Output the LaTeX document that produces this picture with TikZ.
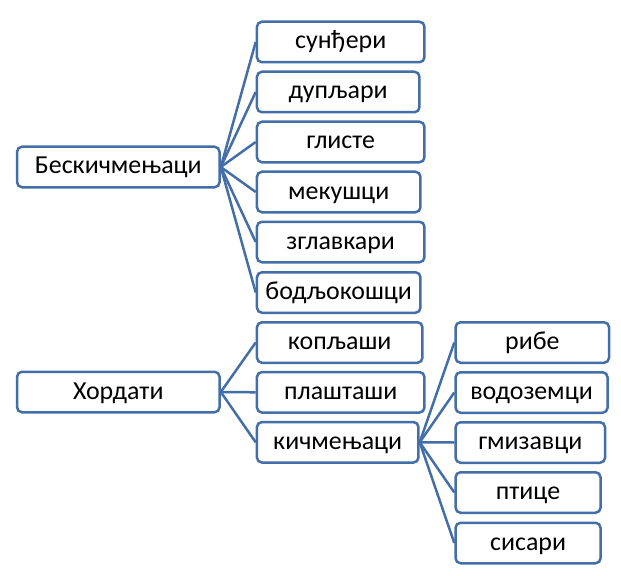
\documentclass[tikz,border=0pt]{standalone}
\usepackage{fontspec}
\setmainfont{Carlito}
\usepackage{xcolor}
\usepackage{tikz}

\definecolor{boxblue}{RGB}{68,110,168}

\tikzset{
  taxon/.style={draw=boxblue, fill=white, line width=2.5bp, rounded corners=5bp,
    minimum height=40.5bp, inner sep=0pt, text height=14bp, text depth=0pt,
    font=\fontsize{26}{26}\selectfont},
  link/.style={draw=boxblue, line width=2.5bp}
}

\begin{document}
\begin{tikzpicture}[x=1bp,y=-1bp]
            \useasboundingbox (0,0) rectangle (621,576);

            % first level
            \node[taxon, minimum width=202.5bp] (besk) at (118.3,167) {Бескичмењаци};
            \node[taxon, minimum width=202.5bp] (hord) at (118.3,392) {Хордати};

            % second level
            \node[taxon, anchor=west, minimum width=167.5bp] (sun) at (255.7,42) {сунђери};
            \node[taxon, anchor=west, minimum width=162.5bp] (dup) at (255.7,92) {дупљари};
            \node[taxon, anchor=west, minimum width=167.5bp] (gli) at (255.7,142) {глисте};
            \node[taxon, anchor=west, minimum width=163.5bp] (mek) at (255.7,192) {мекушци};
            \node[taxon, anchor=west, minimum width=167.5bp] (zgl) at (255.7,242) {зглавкари};
            \node[taxon, anchor=west, minimum width=163.5bp] (bod) at (255.7,292.5) {бодљокошци};
            \node[taxon, anchor=west, minimum width=165.5bp] (kop) at (255.7,342.5) {копљаши};
            \node[taxon, anchor=west, minimum width=167.5bp] (pla) at (255.7,392.3) {плашташи};
            \node[taxon, anchor=west, minimum width=161.5bp] (kic) at (255.7,442.3) {кичмењаци};

            % third level
            \node[taxon, anchor=west, minimum width=153.5bp] (rib) at (454.3,342.5) {рибе};
            \node[taxon, anchor=west, minimum width=152bp] (vod) at (454.3,392.5) {водоземци};
            \node[taxon, anchor=west, minimum width=149.5bp] (gmi) at (454.3,442.5) {гмизавци};
            \node[taxon, anchor=west, minimum width=145bp] (pti) at (454.3,492.5) {птице};
            \node[taxon, anchor=west, minimum width=145bp] (sis) at (454.3,543) {сисари};

            \draw[link] (besk.east) -- (sun.west);
            \draw[link] (besk.east) -- (dup.west);
            \draw[link] (besk.east) -- (gli.west);
            \draw[link] (besk.east) -- (mek.west);
            \draw[link] (besk.east) -- (zgl.west);
            \draw[link] (besk.east) -- (bod.west);

            \draw[link] (hord.east) -- (kop.west);
            \draw[link] (hord.east) -- (pla.west);
            \draw[link] (hord.east) -- (kic.west);

            \draw[link] (kic.east) -- (rib.west);
            \draw[link] (kic.east) -- (vod.west);
            \draw[link] (kic.east) -- (gmi.west);
            \draw[link] (kic.east) -- (pti.west);
            \draw[link] (kic.east) -- (sis.west);
         \end{tikzpicture}
\end{document}
